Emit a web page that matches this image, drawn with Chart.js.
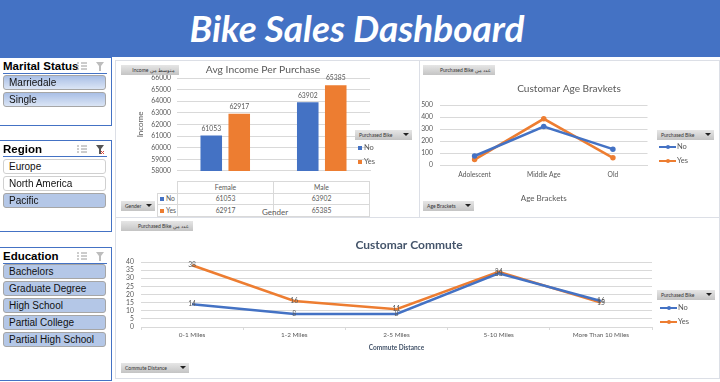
<!DOCTYPE html>
<html>
<head>
<meta charset="utf-8">
<script src="https://cdn.jsdelivr.net/npm/chart.js@4"></script>
<style>
  html, body { margin: 0; padding: 0; background: #fff; overflow: hidden; }
  #page { position: relative; width: 720px; height: 382px; font-family: Lato, sans-serif; color: #595959; }
  #header {
    position: absolute; left: 0; top: 0; width: 714px; padding-right: 6px; height: 57px; background: #4472c4;
    color: #fff; font: italic bold 37px Lato, sans-serif; text-align: center; line-height: 56px;
  }
  .panel { position: absolute; border: 1px solid #dcdfe6; background: #fff; box-sizing: border-box; }
  canvas { position: absolute; }
  .slicer { position: absolute; left: 0; width: 112px; border: 1px solid #4472c4; border-left: none; box-sizing: border-box; background: #fff; }
  .slicer h4 {
    position: absolute; left: 3px; top: 0; right: 4px; margin: 0; height: 15px; line-height: 17px;
    font: bold 11.5px/17px "Liberation Sans", sans-serif; color: #000; border-bottom: 1px solid #4472c4; white-space: nowrap;
  }
  .slicer svg { position: absolute; top: 4px; }
  .item {
    position: absolute; left: 3px; width: 103px; height: 15px; box-sizing: border-box; border: 1px solid #a6a6a6;
    border-radius: 3px; font: 10px "Liberation Sans", sans-serif; color: #111; line-height: 13px; padding-left: 5px; white-space: nowrap;
  }
  .item.on { background: #b4c7e7; }
  .item.grad { background: linear-gradient(#a9bfe6, #dbe5f5); }
  .item.off { background: #fff; border-color: #d0d0d0; }
  .field {
    position: absolute; height: 10px; box-sizing: border-box; background: linear-gradient(#e6e6e6, #c4c4c4);
    font: 5px Lato, sans-serif; color: #333; line-height: 10px; padding: 0 4px; white-space: nowrap;
  }
  .field.drop::after {
    content: ""; position: absolute; right: 3px; top: 3px; border-left: 3px solid transparent;
    border-right: 3px solid transparent; border-top: 3px solid #222;
  }
  .legend { position: absolute; font: 7.5px Lato, sans-serif; color: #595959; }
  .legend div { position: absolute; white-space: nowrap; }
  .legend i { position: absolute; display: block; }
  #table { position: absolute; border-collapse: collapse; font: 6.8px Lato, sans-serif; color: #595959; table-layout: fixed; }
  #table td { border: 1px solid #d9d9d9; text-align: center; padding: 0; height: 10.6px; line-height: 9px; }
  #table td.key { text-align: left; padding-left: 2px; }
  #table td.key i { display: inline-block; width: 4px; height: 4px; margin-right: 2px; }
  .txt { position: absolute; white-space: nowrap; }
</style>
</head>
<body>
<div id="page">
  <div id="header">Bike Sales Dashboard</div>

  <div class="panel" style="left:115px;top:60px;width:305px;height:158px"></div>
  <div class="panel" style="left:419px;top:60px;width:301px;height:158px"></div>
  <div class="panel" style="left:115px;top:217px;width:605px;height:162px"></div>

  <canvas id="incomeChart" style="left:116px;top:63px"></canvas>
  <canvas id="ageChart" style="left:420px;top:63px"></canvas>
  <canvas id="commuteChart" style="left:116px;top:219px"></canvas>

  <table id="table" style="left:157px;top:181px;width:213px"></table>
  <div class="txt" style="left:262px;top:207px;font-size:8px;color:#595959">Gender</div>

  <div class="field" dir="rtl" style="left:121px;top:65px;width:58px">متوسط من Income</div>
  <div class="field drop" style="left:355px;top:130px;width:57px">Purchased Bike</div>
  <div class="field drop" style="left:121px;top:201px;width:34px">Gender</div>
  <div class="field" dir="rtl" style="left:423px;top:65px;width:72px">عدد من Purchased Bike</div>
  <div class="field drop" style="left:657px;top:130px;width:57px">Purchased Bike</div>
  <div class="field drop" style="left:423px;top:201px;width:51px">Age Brackets</div>
  <div class="field" dir="rtl" style="left:121px;top:221px;width:72px">عدد من Purchased Bike</div>
  <div class="field drop" style="left:657px;top:290px;width:58px">Purchased Bike</div>
  <div class="field drop" style="left:121px;top:363px;width:68px">Commute Distance</div>

  <div class="legend" id="incomeLegend"></div>
  <div class="legend" id="ageLegend"></div>
  <div class="legend" id="commuteLegend"></div>

  <div id="slicers"></div>
</div>

<script>
// data
const seriesNames = ["No", "Yes"];
const genders = ["Female", "Male"];
const incomeNo = [61053, 63902];
const incomeYes = [62917, 65385];
const incomeTicks = [58000, 59000, 60000, 61000, 62000, 63000, 64000, 65000, 66000];

const ageBrackets = ["Adolescent", "Middle Age", "Old"];
const ageNo = [75, 320, 132];
const ageYes = [45, 385, 60];

const commuteDistances = ["0-1 Miles", "1-2 Miles", "2-5 Miles", "5-10 Miles", "More Than 10 Miles"];
const commuteNo = [14, 8, 8, 33, 16];
const commuteYes = [38, 16, 11, 34, 15];

const maritalStatus = ["Marriedale", "Single"];
const regions = ["Europe", "North America", "Pacific"];
const regionsSelected = ["Pacific"];
const education = ["Bachelors", "Graduate Degree", "High School", "Partial College", "Partial High School"];

const blue = "#4472c4";
const orange = "#ed7d31";
const gridColor = "#d9d9d9";
const textColor = "#595959";

Chart.defaults.font.family = "Lato, sans-serif";
Chart.defaults.color = textColor;
Chart.defaults.animation = false;

function sizeCanvas(id, w, h) {
  const c = document.getElementById(id);
  c.width = w;
  c.height = h;
  c.style.width = w + "px";
  c.style.height = h + "px";
  return c;
}

// draws the value next to each mark
function valueLabels(font, color, offset) {
  return {
    id: "valueLabels",
    afterDatasetsDraw(chart) {
      const ctx = chart.ctx;
      ctx.save();
      ctx.font = font;
      ctx.fillStyle = color;
      ctx.textAlign = "center";
      ctx.textBaseline = "middle";
      chart.data.datasets.forEach((ds, i) => {
        chart.getDatasetMeta(i).data.forEach((el, j) => {
          ctx.fillText(ds.data[j], el.x, el.y + offset);
        });
      });
      ctx.restore();
    },
  };
}

// chart title at a fixed spot, the built-in one would push the plot around
function titleText(text, font, color, x, y) {
  return {
    id: "titleText",
    afterDraw(chart) {
      const ctx = chart.ctx;
      ctx.save();
      ctx.font = font;
      ctx.fillStyle = color;
      ctx.textAlign = "center";
      ctx.textBaseline = "middle";
      ctx.fillText(text, x, y);
      ctx.restore();
    },
  };
}

const noLegend = {
  legend: { display: false },
  tooltip: { enabled: false },
  title: { display: false },
};

// Avg income chart
new Chart(sizeCanvas("incomeChart", 303, 118), {
  type: "bar",
  data: {
    labels: genders,
    datasets: [
      { label: seriesNames[0], data: incomeNo, backgroundColor: blue, barPercentage: 0.77, categoryPercentage: 0.58 },
      { label: seriesNames[1], data: incomeYes, backgroundColor: orange, barPercentage: 0.77, categoryPercentage: 0.58 },
    ],
  },
  options: {
    responsive: false,
    layout: { padding: { left: 0, right: 49, top: 15, bottom: 0 } },
    plugins: noLegend,
    scales: {
      x: {
        afterFit: (axis) => { axis.height = 0; },
        ticks: { display: false },
        grid: { display: false },
        border: { color: gridColor },
      },
      y: {
        min: 58000,
        max: 66000,
        afterBuildTicks: (axis) => { axis.ticks = incomeTicks.map((v) => ({ value: v })); },
        afterFit: (axis) => { axis.width = 61; },
        ticks: { font: { size: 6.8 }, color: textColor, padding: 6, autoSkip: false, callback: (v) => String(v) },
        grid: { color: gridColor, drawTicks: false },
        border: { display: false },
        title: { display: true, text: "Income", font: { size: 8 }, color: textColor, padding: { top: 20, bottom: 0 } },
      },
    },
  },
  plugins: [
    valueLabels("6.8px Lato, sans-serif", textColor, -7),
    titleText("Avg Income Per Purchase", "10.3px Lato, sans-serif", textColor, 147, 7),
  ],
});

// Age brackets chart
new Chart(sizeCanvas("ageChart", 299, 140), {
  type: "line",
  data: {
    labels: ageBrackets,
    datasets: [
      { label: seriesNames[0], data: ageNo, borderColor: blue, backgroundColor: blue, borderWidth: 2.5, pointRadius: 1.5, tension: 0 },
      { label: seriesNames[1], data: ageYes, borderColor: orange, backgroundColor: orange, borderWidth: 2.5, pointRadius: 1.5, tension: 0 },
    ],
  },
  options: {
    responsive: false,
    layout: { padding: { left: 0, right: 71.5, top: 42, bottom: 0 } },
    plugins: noLegend,
    scales: {
      x: {
        offset: true,
        afterFit: (axis) => { axis.height = 38; },
        grid: { display: false, drawTicks: false },
        border: { color: gridColor },
        ticks: { font: { size: 6.7 }, color: textColor, maxRotation: 0, padding: 6 },
        title: { display: true, text: "Age Brackets", font: { size: 8 }, color: textColor, padding: 0 },
      },
      y: {
        min: 0,
        max: 500,
        afterFit: (axis) => { axis.width = 20; },
        ticks: { font: { size: 6.8 }, color: textColor, stepSize: 100, padding: 7, autoSkip: false },
        grid: { color: gridColor, drawTicks: false },
        border: { display: false },
      },
    },
  },
  plugins: [titleText("Customar Age Bravkets", "10.1px Lato, sans-serif", textColor, 149, 26)],
});

// Commute chart
new Chart(sizeCanvas("commuteChart", 603, 133), {
  type: "line",
  data: {
    labels: commuteDistances,
    datasets: [
      { label: seriesNames[0], data: commuteNo, borderColor: blue, backgroundColor: blue, borderWidth: 2.5, pointRadius: 0, tension: 0 },
      { label: seriesNames[1], data: commuteYes, borderColor: orange, backgroundColor: orange, borderWidth: 2.5, pointRadius: 0, tension: 0 },
    ],
  },
  options: {
    responsive: false,
    layout: { padding: { left: 0, right: 67, top: 43, bottom: 0 } },
    plugins: noLegend,
    scales: {
      x: {
        offset: true,
        afterFit: (axis) => { axis.height = 25; },
        grid: { display: true, offset: true, drawOnChartArea: false, color: gridColor, tickLength: 3 },
        border: { color: gridColor },
        ticks: { font: { size: 6.4 }, color: textColor, maxRotation: 0, padding: 1.5 },
        title: { display: true, text: "Commute Distance", font: { size: 6.5, weight: "bold" }, color: "#44546a", padding: 0 },
      },
      y: {
        min: 0,
        max: 40,
        afterFit: (axis) => { axis.width = 25; },
        ticks: { font: { size: 6.8 }, color: textColor, stepSize: 5, padding: 7, autoSkip: false },
        grid: { color: gridColor, drawTicks: false },
        border: { display: false },
      },
    },
  },
  plugins: [
    valueLabels("6.8px Lato, sans-serif", "#595959", 0),
    titleText("Customar Commute", "bold 12px Lato, sans-serif", "#44546a", 293, 26),
  ],
});

// data table under the bars
const table = document.getElementById("table");
table.innerHTML = `
  <colgroup><col style="width:20px"><col><col></colgroup>
  <tr><td style="border:none;border-right:1px solid #d9d9d9"></td>${genders.map((g) => `<td>${g}</td>`).join("")}</tr>
  <tr><td class="key"><i style="background:${blue}"></i>${seriesNames[0]}</td>${incomeNo.map((v) => `<td>${v}</td>`).join("")}</tr>
  <tr><td class="key"><i style="background:${orange}"></i>${seriesNames[1]}</td>${incomeYes.map((v) => `<td>${v}</td>`).join("")}</tr>
`;

// legends
function buildLegend(id, left, top, step, isLine) {
  const el = document.getElementById(id);
  el.style.left = left + "px";
  el.style.top = top + "px";
  el.innerHTML = seriesNames.map((name, i) => {
    const color = i === 0 ? blue : orange;
    const y = i * step;
    const swatch = isLine
      ? `<i style="left:0;top:${y + 4}px;width:17px;height:2px;background:${color}"></i>`
        + `<i style="left:7px;top:${y + 3}px;width:4px;height:4px;border-radius:2px;background:${color}"></i>`
      : `<i style="left:0;top:${y + 3}px;width:4px;height:4px;background:${color}"></i>`;
    return swatch + `<div style="left:${isLine ? 18 : 6}px;top:${y}px">${name}</div>`;
  }).join("");
}
buildLegend("incomeLegend", 358, 143, 14, false);
buildLegend("ageLegend", 659, 142, 14, true);
buildLegend("commuteLegend", 660, 303, 13.5, true);

// slicer header icons
function slicerIcons(filtered) {
  const lines = [1, 4, 7].map((y) => `<path d="M0 ${y}h2M4 ${y}h6" stroke="#9a9a9a"/>`).join("");
  const funnel = filtered ? "#555" : "#bdbdbd";
  const cross = filtered ? `<path d="M5 6l3 3M8 6l-3 3" stroke="#d9483b"/>` : "";
  return `<svg style="left:77px" width="10" height="9">${lines}</svg>`
    + `<svg style="left:96px" width="10" height="10"><path d="M0 0h8l-3 4v5h-2v-5z" fill="${funnel}"/>${cross}</svg>`;
}

// slicers
function buildSlicer(title, items, top, height, firstTop, step, itemClass, filtered) {
  const box = document.createElement("div");
  box.className = "slicer";
  box.style.top = top + "px";
  box.style.height = height + "px";
  const head = document.createElement("h4");
  head.textContent = title;
  box.appendChild(head);
  box.insertAdjacentHTML("beforeend", slicerIcons(filtered));
  items.forEach((name, i) => {
    const d = document.createElement("div");
    d.className = "item " + itemClass(name);
    d.style.top = firstTop + i * step + "px";
    d.textContent = name;
    box.appendChild(d);
  });
  document.getElementById("slicers").appendChild(box);
}
buildSlicer("Marital Status", maritalStatus, 57, 69, 17, 17, () => "grad", false);
buildSlicer("Region", regions, 140, 92, 18, 17, (n) => (regionsSelected.includes(n) ? "on" : "off"), true);
buildSlicer("Education", education, 247, 134, 16, 17, () => "on", false);
</script>
</body>
</html>
